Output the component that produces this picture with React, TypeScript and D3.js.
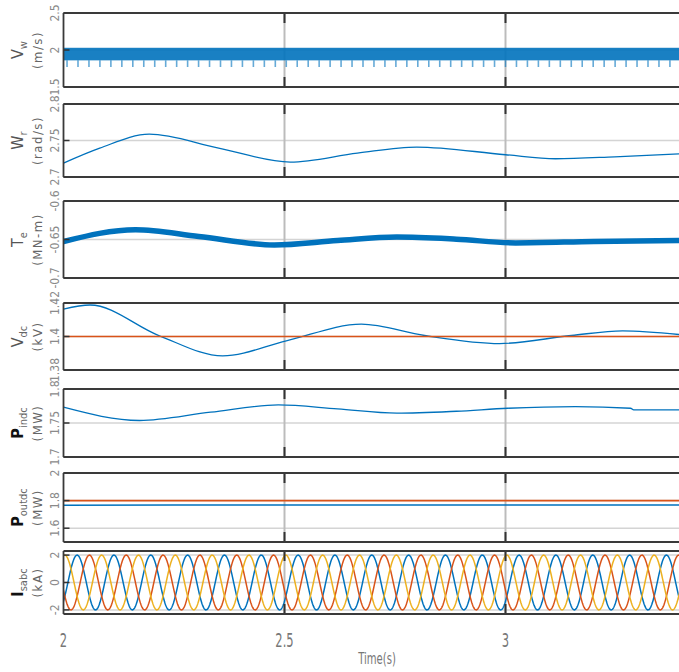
import React from 'react';
import * as d3 from 'd3';

// time axis
const timeDomain = [2, 3.4];
const xTicks = [2, 2.5, 3];

// wind speed: noisy band + periodic dips
const vwBand = [1.86, 2.03];
const vwDipLow = 1.77;
const vwDipPeriod = 0.0248;

// rotor speed (rad/s)
const wrT = [2.0, 2.082, 2.194, 2.351, 2.513, 2.665, 2.799, 3.0, 3.113, 3.247, 3.4];
const wrV = [2.719, 2.7395, 2.7586, 2.7395, 2.7205, 2.7327, 2.741, 2.7305, 2.725, 2.7277, 2.732];

// electromagnetic torque (MN-m)
const teT = [2.0, 2.163, 2.306, 2.477, 2.62, 2.754, 2.889, 3.023, 3.2, 3.4];
const teV = [-0.6526, -0.6373, -0.646, -0.657, -0.6513, -0.6469, -0.6496, -0.6544, -0.6526, -0.6513];

// dc link voltage (kV)
const vdcT = [2.0, 2.06, 2.217, 2.36, 2.504, 2.674, 2.817, 2.987, 3.149, 3.265, 3.4];
const vdcV = [1.4164, 1.4188, 1.4004, 1.3884, 1.3974, 1.4074, 1.4006, 1.3958, 1.4006, 1.4034, 1.401];
const vdcRef = 1.4;

// input dc power (MW)
const pinT = [2.0, 2.172, 2.333, 2.486, 2.62, 2.754, 2.889, 3.005, 3.158, 3.283, 3.29, 3.4];
const pinV = [1.7732, 1.7537, 1.7659, 1.7766, 1.7707, 1.7644, 1.7673, 1.7717, 1.7741, 1.7717, 1.7693, 1.7693];
const pinRef = 1.8;

// output dc power (MW)
const poutT = [2.0, 2.5, 3.0, 3.4];
const poutV = [1.767, 1.768, 1.769, 1.769];
const poutRef = 1.8;

// stator currents (kA)
const iAmp = 2.0;
const iFreq = 12;
const iPeakTimes = [2.003, 2.0308, 2.0586]; // c, a, b
const iColors = ['#EDB120', '#0072BD', '#D95319'];

const BLUE = '#0072BD';
const ORANGE = '#D95319';

const W = 679;
const H = 672;
const x = d3.scaleLinear().domain(timeDomain).range([63.5, 682.3]);

const panels = [
  { box: [13, 87], domain: [1.5, 2.5], ticks: [1.5, 2, 2.5], label: 'V', sub: 'w', unit: '(m/s)', bold: false },
  { box: [104, 177], domain: [2.7, 2.8], ticks: [2.7, 2.75, 2.8], label: 'W', sub: 'r', unit: '(rad/s)', bold: false },
  { box: [201, 278], domain: [-0.7, -0.6], ticks: [-0.7, -0.65, -0.6], label: 'T', sub: 'e', unit: '(MN-m)', bold: false },
  { box: [303, 370], domain: [1.38, 1.42], ticks: [1.38, 1.4, 1.42], label: 'V', sub: 'dc', unit: '(kV)', bold: false },
  { box: [389, 457], domain: [1.7, 1.8], ticks: [1.7, 1.75, 1.8], label: 'P', sub: 'indc', unit: '(MW)', bold: true },
  { box: [473, 542], domain: [1.5, 2], ticks: [1.6, 1.8, 2], label: 'P', sub: 'outdc', unit: '(MW)', bold: true },
  { box: [551, 614], domain: [-2.3, 2.3], ticks: [-2, 0, 2], label: 'I', sub: 'sabc', unit: '(kA)', bold: true },
];

const narrow = "'Liberation Sans Narrow', 'DejaVu Sans Condensed', sans-serif";

function seriesPath(y: d3.ScaleLinear<number, number>, ts: number[], vs: number[]) {
  const pts = ts.map((t, i) => [t, vs[i]] as [number, number]);
  return d3.line<[number, number]>()
    .x(d => x(d[0]))
    .y(d => y(d[1]))
    .curve(d3.curveMonotoneX)(pts) || '';
}

function refPath(y: d3.ScaleLinear<number, number>, v: number) {
  return d3.line<number>().x(t => x(t)).y(() => y(v))(timeDomain) || '';
}

export default function App() {
  const x0 = x(timeDomain[0]);
  const x1 = W;

  const renderData = (i: number, y: d3.ScaleLinear<number, number>) => {
    if (i === 0) {
      const dips = d3.range(timeDomain[0] + 0.008, timeDomain[1], vwDipPeriod);
      return (
        <g>
          <rect x={x0} width={x1 - x0} y={y(vwBand[1])} height={y(vwBand[0]) - y(vwBand[1])} fill={BLUE} opacity={0.9} />
          {dips.map((t, k) => (
            <line key={k} x1={x(t)} x2={x(t)} y1={y(vwBand[0])} y2={y(vwDipLow)} stroke={BLUE} strokeWidth={1.6} opacity={0.6} />
          ))}
        </g>
      );
    }
    if (i === 1) return <path d={seriesPath(y, wrT, wrV)} fill="none" stroke={BLUE} strokeWidth={1.3} />;
    if (i === 2) return <path d={seriesPath(y, teT, teV)} fill="none" stroke={BLUE} strokeWidth={5.5} />;
    if (i === 3) return (
      <g>
        <path d={seriesPath(y, vdcT, vdcV)} fill="none" stroke={BLUE} strokeWidth={1.3} />
        <path d={refPath(y, vdcRef)} fill="none" stroke={ORANGE} strokeWidth={1.6} />
      </g>
    );
    if (i === 4) return (
      <g>
        <path d={seriesPath(y, pinT, pinV)} fill="none" stroke={BLUE} strokeWidth={1.3} />
        <path d={refPath(y, pinRef)} fill="none" stroke={ORANGE} strokeWidth={1.8} />
      </g>
    );
    if (i === 5) return (
      <g>
        <path d={seriesPath(y, poutT, poutV)} fill="none" stroke={BLUE} strokeWidth={1.5} />
        <path d={refPath(y, poutRef)} fill="none" stroke={ORANGE} strokeWidth={1.6} />
      </g>
    );
    // three-phase currents
    const samples = d3.range(timeDomain[0], timeDomain[1], 0.001);
    const order = [1, 2, 0];
    return (
      <g>
        {order.map(k => {
          const d = d3.line<number>()
            .x(t => x(t))
            .y(t => y(iAmp * Math.cos(2 * Math.PI * iFreq * (t - iPeakTimes[k]))))(samples) || '';
          return <path key={k} d={d} fill="none" stroke={iColors[k]} strokeWidth={1.5} />;
        })}
      </g>
    );
  };

  return (
    <div>
      <style>{`body{margin:0;background:#fff}`}</style>
      <svg width={W} height={H} style={{ display: 'block' }}>
        <defs>
          {panels.map((p, i) => (
            <clipPath id={`clip${i}`} key={i}>
              <rect x={x0} y={p.box[0] - 1} width={x1 - x0} height={p.box[1] - p.box[0] + 2} />
            </clipPath>
          ))}
        </defs>
        {panels.map((p, i) => {
          const y = d3.scaleLinear().domain(p.domain).range([p.box[1], p.box[0]]);
          const cy = (p.box[0] + p.box[1]) / 2;
          return (
            <g key={i}>
              {/* grid */}
              {p.ticks.map(v => (
                <line key={`gy${v}`} x1={x0} x2={x1} y1={y(v)} y2={y(v)} stroke="#d4d4d4" strokeWidth={1.5} />
              ))}
              {xTicks.slice(1).map(t => (
                <line key={`gx${t}`} x1={x(t)} x2={x(t)} y1={p.box[0]} y2={p.box[1]} stroke="#bcbcbc" strokeWidth={2} />
              ))}
              <g clipPath={`url(#clip${i})`}>{renderData(i, y)}</g>
              {/* ticks */}
              {xTicks.slice(1).map(t => (
                <g key={`tx${t}`}>
                  <line x1={x(t)} x2={x(t)} y1={p.box[0]} y2={p.box[0] + 10} stroke="#333" strokeWidth={2} />
                  <line x1={x(t)} x2={x(t)} y1={p.box[1]} y2={p.box[1] - 10} stroke="#333" strokeWidth={2} />
                </g>
              ))}
              {p.ticks.map(v => (
                <line key={`ty${v}`} x1={x0} x2={x0 + 6} y1={y(v)} y2={y(v)} stroke="#333" strokeWidth={1.5} />
              ))}
              {/* box */}
              <line x1={x0} x2={x1} y1={p.box[0]} y2={p.box[0]} stroke="#3a3a3a" strokeWidth={1.8} />
              <line x1={x0} x2={x1} y1={p.box[1]} y2={p.box[1]} stroke="#3a3a3a" strokeWidth={1.8} />
              <line x1={x0} x2={x0} y1={p.box[0]} y2={p.box[1]} stroke="#3a3a3a" strokeWidth={1.8} />
              {/* tick labels */}
              {p.ticks.map(v => (
                <text key={`tl${v}`} transform={`translate(59,${y(v)}) rotate(-90)`} textAnchor="middle"
                  fontFamily={narrow} fontSize={12} fill="#8a8a8a">{String(v)}</text>
              ))}
              {/* y label */}
              <text transform={`translate(23,${cy}) rotate(-90)`} textAnchor="middle" fontFamily={narrow}
                fontSize={16} fill={p.bold ? '#111' : '#555'} fontWeight={p.bold ? 'bold' : 'normal'}>
                <tspan>{p.label}</tspan>
                <tspan fontSize={11} dy={4} fontWeight="normal" fill="#666">{p.sub}</tspan>
              </text>
              <text transform={`translate(42,${cy}) rotate(-90)`} textAnchor="middle" fontFamily={narrow}
                fontSize={13} fill="#666" letterSpacing={1.5}>{p.unit}</text>
            </g>
          );
        })}
        {/* x axis labels */}
        {xTicks.map(t => (
          <text key={t} transform={`translate(${x(t)},647) scale(0.8,1.2)`} textAnchor="middle"
            fontFamily={narrow} fontSize={16} fill="#777">{String(t)}</text>
        ))}
        <text transform="translate(377,664) scale(0.8,1.15)" textAnchor="middle" fontFamily={narrow}
          fontSize={14} fill="#777">Time(s)</text>
      </svg>
    </div>
  );
}
